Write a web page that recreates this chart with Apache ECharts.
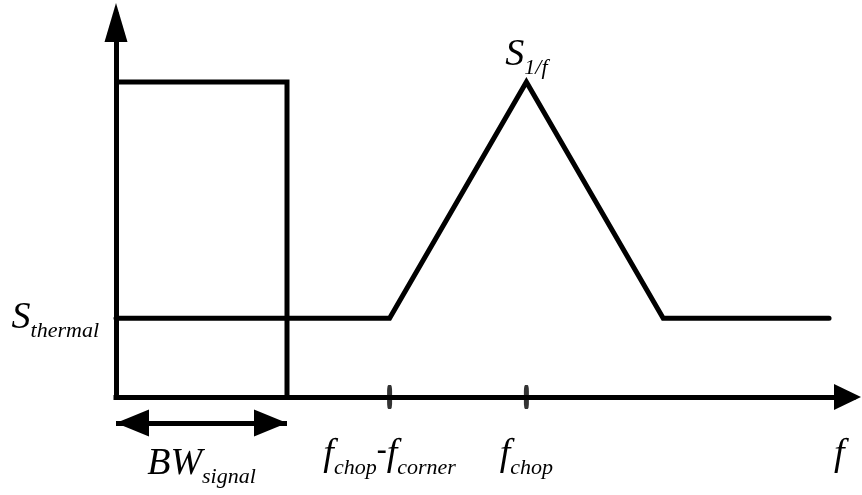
<!DOCTYPE html>
<html>
<head>
<meta charset="utf-8">
<script src="https://cdn.jsdelivr.net/npm/echarts@6/dist/echarts.min.js"></script>
<style>
  html, body { margin: 0; padding: 0; background: #fff; }
  #chart { width: 862px; height: 495px; }
</style>
</head>
<body>
<div id="chart"></div>
<script>
// Chopper-stabilised amplifier: noise spectrum after chopping
const noiseF = [0, 16, 24, 32, 41.7];     // frequency breakpoints
const noiseS = [1, 1, 4, 1, 1];           // noise density (thermal floor = 1, 1/f peak = 4)
const signalF = [0, 10, 10];              // signal band edge
const signalS = [4, 4, 0];
const bwRange = [0, 10];                  // signal bandwidth
const xTickValues = [16, 24];             // f_chop - f_corner, f_chop
const xLabelValues = [16, 24, 42.3];
const xLabelTexts = ['{m|f}{s|chop}{d|-}{m|f}{s|corner}', '{m|f}{s|chop}', '{m|f}'];
const yLabelValues = [1];
const yLabelTexts = ['{m|S}{s|thermal}'];
const peakLabel = '{m|S}{s|1/f}';
const bwLabel = '{m|BW}{s|signal}';

const X_MAX = 43.1;
const Y_MAX = 4.85;
const INK = '#000';
const FONT = '"Liberation Serif", "Times New Roman", serif';

const rich = {
  m: { fontFamily: FONT, fontStyle: 'italic', fontSize: 38, lineHeight: 38, verticalAlign: 'top', color: INK },
  s: { fontFamily: FONT, fontStyle: 'italic', fontSize: 22, lineHeight: 22, padding: [21, 0, 0, 0], verticalAlign: 'top', color: INK },
  d: { fontFamily: FONT, fontSize: 30, lineHeight: 38, fontWeight: 'bold', verticalAlign: 'top', color: INK }
};

const pairs = (xs, ys) => xs.map((x, i) => [x, ys[i]]);
const peakS = Math.max(...noiseS);
const noiseData = pairs(noiseF, noiseS).map((p, i) => {
  if (noiseS[i] === peakS) {
    return { value: p, label: { show: true, position: 'top', distance: 7, formatter: peakLabel, rich: rich } };
  }
  return p;
});

const chart = echarts.init(document.getElementById('chart'), null, { renderer: 'canvas' });
chart.setOption({
  backgroundColor: '#fff',
  animation: false,
  grid: [
    { left: 116, right: 9, top: 15, bottom: 98, outerBoundsMode: 'none' },
    { left: 116, right: 9, top: 410, height: 26, outerBoundsMode: 'none' }
  ],
  xAxis: [
    {
      type: 'value', gridIndex: 0, min: 0, max: X_MAX,
      axisLine: { show: true, onZero: false, symbol: ['none', 'triangle'], symbolSize: [26, 27],
        symbolOffset: [0, -5.5],
        lineStyle: { color: INK, width: 5, cap: 'square' } },
      axisTick: { show: false },
      splitLine: { show: false },
      axisLabel: {
        show: true, margin: 39, verticalAlign: 'top', customValues: xLabelValues,
        formatter: v => xLabelTexts[xLabelValues.indexOf(v)] || '',
        rich: rich
      }
    },
    { type: 'value', gridIndex: 1, min: 0, max: X_MAX, show: false }
  ],
  yAxis: [
    {
      type: 'value', gridIndex: 0, min: 0, max: Y_MAX,
      axisLine: { show: true, onZero: false, symbol: ['none', 'triangle'], symbolSize: [23, 39],
        symbolOffset: [0, -7.5],
        lineStyle: { color: INK, width: 5, cap: 'square' } },
      axisTick: { show: false },
      splitLine: { show: false },
      axisLabel: {
        show: true, margin: 17, customValues: yLabelValues,
        formatter: v => yLabelTexts[yLabelValues.indexOf(v)] || '',
        rich: rich
      }
    },
    { type: 'value', gridIndex: 1, min: -1, max: 1, show: false }
  ],
  series: [
    {
      name: 'signal', type: 'line', xAxisIndex: 0, yAxisIndex: 0,
      data: pairs(signalF, signalS), symbol: 'none', clip: false,
      lineStyle: { color: INK, width: 5, join: 'miter', cap: 'butt' }, z: 3
    },
    {
      name: 'noise', type: 'line', xAxisIndex: 0, yAxisIndex: 0,
      data: noiseData, symbol: 'circle', symbolSize: 1, showSymbol: true, clip: false,
      itemStyle: { color: INK },
      lineStyle: { color: INK, width: 5, join: 'miter', cap: 'round' }, z: 3
    },
    {
      name: 'ticks', type: 'scatter', xAxisIndex: 0, yAxisIndex: 0,
      data: xTickValues.map(v => [v, 0]), symbol: 'roundRect', symbolSize: [5, 24],
      itemStyle: { color: INK }, clip: false, z: 4
    },
    {
      name: 'bandwidth', type: 'line', xAxisIndex: 1, yAxisIndex: 1,
      data: [], symbol: 'none',
      markLine: {
        silent: true, animation: false,
        symbol: ['triangle', 'triangle'], symbolSize: [27, 33],
        symbolOffset: [[0, 16.5], [0, 16.5]],
        lineStyle: { color: INK, width: 5, type: 'solid' },
        label: { show: true, position: 'insideMiddleBottom', distance: 22, formatter: bwLabel, rich: rich },
        data: [[{ coord: [bwRange[0], 0] }, { coord: [bwRange[1], 0] }]]
      }
    }
  ]
});
</script>
</body>
</html>
